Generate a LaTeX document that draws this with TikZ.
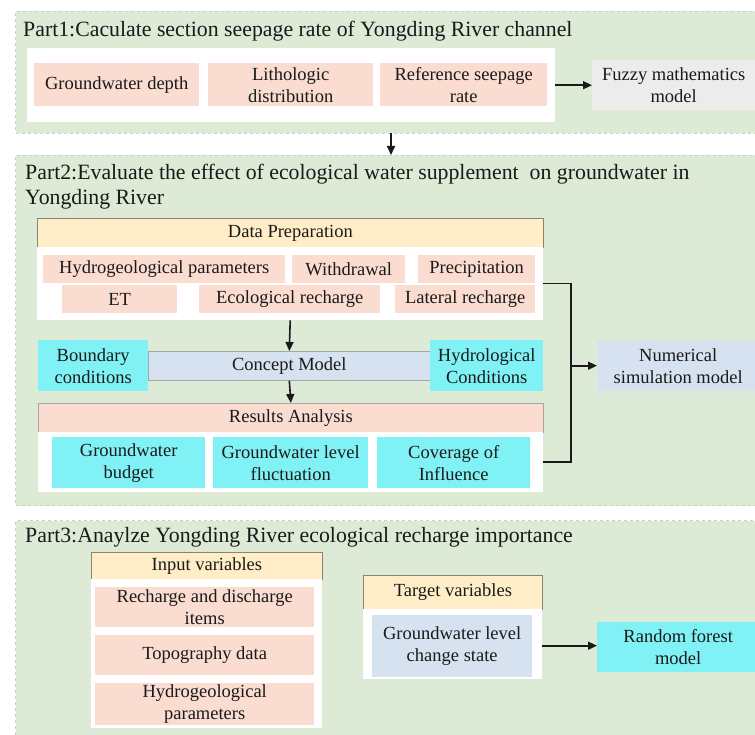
\documentclass[tikz,border=0pt]{standalone}
\usepackage{fontspec}
\setmainfont{Liberation Serif}
\usetikzlibrary{arrows.meta}
\definecolor{panelgreen}{HTML}{DDEAD6}
\definecolor{paneledge}{HTML}{C3D6BB}
\definecolor{peach}{HTML}{FADDD0}
\definecolor{cream}{HTML}{FFEDC8}
\definecolor{creamedge}{HTML}{8C8272}
\definecolor{paleblue}{HTML}{D6E2F0}
\definecolor{aqua}{HTML}{80F2F5}
\definecolor{lightgrey}{HTML}{ECECEC}
\definecolor{ink}{HTML}{1A1A1A}
\tikzset{
  panel/.style={anchor=north west, inner sep=0pt, fill=panelgreen, draw=paneledge, dashed, line width=1pt},
  cell/.style={anchor=north west, inner sep=0pt, align=center, text=ink,
               font=\fontsize{18.5}{22}\selectfont},
  whitebox/.style={anchor=north west, inner sep=0pt, fill=white},
  titletext/.style={anchor=base west, inner sep=0pt, align=left, text=ink,
               font=\fontsize{21.8}{25}\selectfont},
  arr/.style={draw=ink, line width=1.6pt, -{Triangle[length=9pt,width=8pt]}},
  link/.style={draw=ink, line width=1.6pt},
}
\begin{document}
\begin{tikzpicture}[x=1pt,y=-1pt]
\useasboundingbox (0,0) rectangle (755,735);
\begin{scope}
\clip (0,0) rectangle (755,735);
% ---------- Part 1 ----------
\node[panel, minimum width=748, minimum height=122] (panel1) at (15,11) {};
\node[titletext] (title1) at (23,37) {Part1:Caculate section seepage rate of Yongding River channel};
\node[whitebox, minimum width=528, minimum height=74] (wb1) at (27,48) {};
\node[cell, fill=peach, minimum width=165, minimum height=43] (gd) at (34,63) {Groundwater depth};
\node[cell, fill=peach, minimum width=165, minimum height=43] (litho) at (208,63) {Lithologic\\distribution};
\node[cell, fill=peach, minimum width=167, minimum height=43] (refs) at (380,63) {Reference seepage\\rate};
\node[cell, fill=lightgrey, minimum width=163, minimum height=50] (fuzzy) at (592,60) {Fuzzy mathematics\\model};
\draw[arr] (wb1.east) -- (fuzzy.west);

% ---------- Part 2 ----------
\node[panel, minimum width=748, minimum height=350] (panel2) at (15,155) {};
\coordinate (p12a) at (391,133);
\coordinate (p12b) at (391,155);
\draw[arr] (p12a) -- (p12b);
\node[titletext] (title2) at (25,205) {Part2:Evaluate the effect of ecological water supplement \ on groundwater in\\Yongding River};
\node[cell, fill=cream, draw=creamedge, line width=0.8pt, solid, minimum width=506, minimum height=29] (dataprep) at (37,218) {Data Preparation};
\node[whitebox, minimum width=506, minimum height=73] (wb2) at (37,247) {};
\node[cell, fill=peach, minimum width=242, minimum height=28] (hp) at (43,255) {Hydrogeological parameters};
\node[cell, fill=peach, minimum width=113, minimum height=28] (wd) at (292,255) {Withdrawal};
\node[cell, fill=peach, minimum width=117, minimum height=28] (pr) at (418,255) {Precipitation};
\node[cell, fill=peach, minimum width=115, minimum height=28] (et) at (62,285) {ET};
\node[cell, fill=peach, minimum width=181, minimum height=28] (eco) at (199,285) {Ecological recharge};
\node[cell, fill=peach, minimum width=140, minimum height=28] (lat) at (395,285) {Lateral recharge};

\node[cell, fill=paleblue, draw=gray!70, line width=0.6pt, minimum width=282, minimum height=29] (concept) at (148,351) {Concept Model};
\node[cell, fill=aqua, minimum width=110, minimum height=51] (bc) at (38,340) {Boundary\\conditions};
\node[cell, fill=aqua, minimum width=113, minimum height=51] (hc) at (430,340) {Hydrological\\Conditions};
\draw[arr] (wb2.south) -- (concept.north);

\node[cell, fill=peach, draw=gray!70, line width=0.8pt, minimum width=505, minimum height=29] (results) at (38,403) {Results Analysis};
\draw[arr] (concept.south) -- (results.north);
\node[whitebox, minimum width=505, minimum height=60] (wb3) at (38,432) {};
\node[cell, fill=aqua, minimum width=153, minimum height=51] (gb) at (52,437) {Groundwater\\budget};
\node[cell, fill=aqua, minimum width=155, minimum height=51] (gl) at (213,437) {Groundwater level\\fluctuation};
\node[cell, fill=aqua, minimum width=153, minimum height=51] (ci) at (377,437) {Coverage of\\Influence};

\node[cell, fill=paleblue, minimum width=162, minimum height=51] (num) at (597,340) {Numerical\\simulation model};
\coordinate (jx) at (571,0);
\draw[link] (wb2.east) -- (wb2.east -| jx) -- (wb3.east -| jx) -- (wb3.east);
\draw[arr] (num.west -| jx) -- (num.west);

% ---------- Part 3 ----------
\node[panel, minimum width=748, minimum height=225] (panel3) at (15,520) {};
\node[titletext] (title3) at (25,542) {Part3:Anaylze Yongding River ecological recharge importance};
\node[cell, fill=cream, draw=creamedge, line width=0.8pt, minimum width=231, minimum height=27] (iv) at (91,552) {Input variables};
\node[whitebox, minimum width=231, minimum height=149] (wb4) at (91,579) {};
\node[cell, fill=peach, minimum width=219, minimum height=40] (rd) at (95,587) {Recharge and discharge\\items};
\node[cell, fill=peach, minimum width=219, minimum height=40] (td) at (95,635) {Topography data};
\node[cell, fill=peach, minimum width=219, minimum height=42] (hp2) at (95,683) {Hydrogeological\\parameters};

\node[cell, fill=cream, draw=creamedge, line width=0.8pt, minimum width=179, minimum height=34] (tv) at (363,575) {Target variables};
\node[whitebox, minimum width=179, minimum height=70] (wb5) at (363,609) {};
\node[cell, fill=paleblue, minimum width=160, minimum height=62] (gls) at (372,615) {Groundwater level\\change state};
\node[cell, fill=aqua, minimum width=162, minimum height=50] (rf) at (597,622) {Random forest\\model};
\draw[arr] ([yshift=-1.5]wb5.east) -- ([yshift=-1.5]wb5.east -| rf.west);
\end{scope}
\end{tikzpicture}
\end{document}
